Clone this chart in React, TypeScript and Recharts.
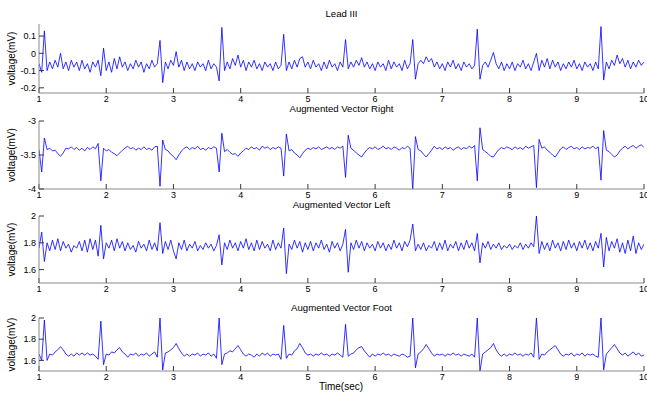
import React from 'react';
import { LineChart, Line, XAxis, YAxis } from 'recharts';

const TIME = [
  1, 1.04, 1.08, 1.12, 1.16, 1.2, 1.24, 1.28, 1.32, 1.36, 1.4, 1.44, 1.48, 1.52, 1.56, 1.6, 1.64, 1.68, 1.72, 1.76, 1.8, 1.84, 1.88, 1.92, 1.96,
  2, 2.04, 2.08, 2.12, 2.16, 2.2, 2.24, 2.28, 2.32, 2.36, 2.4, 2.44, 2.48, 2.52, 2.56, 2.6, 2.64, 2.68, 2.72, 2.76, 2.8, 2.84, 2.88, 2.92, 2.96,
  3, 3.04, 3.08, 3.12, 3.16, 3.2, 3.24, 3.28, 3.32, 3.36, 3.4, 3.44, 3.48, 3.52, 3.56, 3.6, 3.64, 3.68, 3.72, 3.76, 3.8, 3.84, 3.88, 3.92, 3.96,
  4, 4.04, 4.08, 4.12, 4.16, 4.2, 4.24, 4.28, 4.32, 4.36, 4.4, 4.44, 4.48, 4.52, 4.56, 4.6, 4.64, 4.68, 4.72, 4.76, 4.8, 4.84, 4.88, 4.92, 4.96,
  5, 5.04, 5.08, 5.12, 5.16, 5.2, 5.24, 5.28, 5.32, 5.36, 5.4, 5.44, 5.48, 5.52, 5.56, 5.6, 5.64, 5.68, 5.72, 5.76, 5.8, 5.84, 5.88, 5.92, 5.96,
  6, 6.04, 6.08, 6.12, 6.16, 6.2, 6.24, 6.28, 6.32, 6.36, 6.4, 6.44, 6.48, 6.52, 6.56, 6.6, 6.64, 6.68, 6.72, 6.76, 6.8, 6.84, 6.88, 6.92, 6.96,
  7, 7.04, 7.08, 7.12, 7.16, 7.2, 7.24, 7.28, 7.32, 7.36, 7.4, 7.44, 7.48, 7.52, 7.56, 7.6, 7.64, 7.68, 7.72, 7.76, 7.8, 7.84, 7.88, 7.92, 7.96,
  8, 8.04, 8.08, 8.12, 8.16, 8.2, 8.24, 8.28, 8.32, 8.36, 8.4, 8.44, 8.48, 8.52, 8.56, 8.6, 8.64, 8.68, 8.72, 8.76, 8.8, 8.84, 8.88, 8.92, 8.96,
  9, 9.04, 9.08, 9.12, 9.16, 9.2, 9.24, 9.28, 9.32, 9.36, 9.4, 9.44, 9.48, 9.52, 9.56, 9.6, 9.64, 9.68, 9.72, 9.76, 9.8, 9.84, 9.88, 9.92, 9.96,
  10,
];

const LEAD_III = [
  -0.06, -0.11, 0.13, -0.10, -0.05, -0.09, -0.04, -0.08, 0.00, -0.09, -0.05, -0.10, -0.04, -0.08, -0.05, -0.10, -0.04, -0.09, -0.06, -0.11, -0.05, -0.08, -0.04, -0.13, 0.03,
  -0.10, -0.05, -0.11, -0.03, -0.09, -0.02, -0.08, -0.05, -0.10, -0.06, -0.09, -0.04, -0.08, -0.05, -0.11, -0.06, -0.09, -0.04, -0.08, -0.06, 0.075, -0.17, -0.05, -0.09, -0.04,
  -0.07, 0.01, -0.08, -0.04, -0.10, -0.05, -0.09, -0.06, -0.10, -0.05, -0.08, -0.06, -0.10, -0.04, -0.09, -0.06, -0.08, -0.16, 0.15, -0.10, -0.05, -0.09, -0.03, -0.07, -0.01,
  -0.08, -0.04, -0.10, -0.05, -0.08, -0.04, -0.09, -0.06, -0.10, -0.05, -0.08, -0.06, -0.10, -0.05, -0.09, -0.07, 0.11, -0.10, -0.05, -0.09, -0.04, -0.08, -0.03, -0.02, -0.08,
  -0.05, -0.09, -0.04, -0.08, -0.06, -0.10, -0.05, -0.09, -0.04, -0.08, -0.06, -0.10, -0.05, -0.08, 0.08, -0.09, -0.05, -0.08, -0.04, -0.07, -0.025, -0.08, -0.05, -0.09, -0.06,
  -0.10, -0.05, -0.08, -0.06, -0.10, -0.04, -0.09, -0.05, -0.08, -0.06, -0.10, -0.04, -0.09, -0.06, 0.08, -0.15, -0.06, -0.04, -0.06, -0.02, -0.05, -0.03, -0.08, -0.05, -0.09,
  -0.06, -0.10, -0.05, -0.08, -0.04, -0.09, -0.06, -0.10, -0.05, -0.08, -0.06, -0.09, -0.07, 0.14, -0.15, -0.07, -0.05, -0.08, -0.04, 0.005, -0.06, -0.09, -0.05, -0.10, -0.06,
  -0.09, -0.05, -0.10, -0.06, -0.08, -0.04, -0.09, -0.06, -0.10, -0.05, 0.00, -0.10, -0.04, -0.08, -0.03, -0.09, -0.04, -0.08, -0.05, -0.10, -0.06, -0.09, -0.05, -0.08, -0.04,
  -0.09, -0.06, -0.10, -0.05, -0.08, -0.06, -0.10, -0.05, -0.09, 0.155, -0.155, -0.05, -0.09, -0.04, -0.07, -0.01, -0.06, -0.03, -0.08, -0.04, -0.09, -0.05, -0.08, -0.04, -0.07,
  -0.05,
];

const AVR = [
  -3.42, -3.75, -3.25, -3.42, -3.40, -3.44, -3.43, -3.48, -3.52, -3.47, -3.40, -3.41, -3.38, -3.42, -3.39, -3.43, -3.40, -3.44, -3.39, -3.42, -3.38, -3.41, -3.33, -3.88, -3.40,
  -3.44, -3.42, -3.46, -3.48, -3.51, -3.47, -3.43, -3.40, -3.37, -3.41, -3.39, -3.43, -3.40, -3.42, -3.38, -3.42, -3.40, -3.43, -3.38, -3.37, -3.96, -3.28, -3.42, -3.44, -3.49,
  -3.52, -3.57, -3.50, -3.44, -3.40, -3.38, -3.42, -3.39, -3.41, -3.37, -3.42, -3.40, -3.43, -3.39, -3.41, -3.38, -3.40, -3.75, -3.18, -3.45, -3.42, -3.46, -3.49, -3.48, -3.52,
  -3.47, -3.44, -3.40, -3.42, -3.38, -3.41, -3.39, -3.43, -3.37, -3.40, -3.38, -3.42, -3.39, -3.41, -3.38, -3.40, -3.81, -3.19, -3.44, -3.42, -3.47, -3.50, -3.54, -3.48, -3.43,
  -3.40, -3.42, -3.39, -3.41, -3.38, -3.42, -3.40, -3.38, -3.41, -3.39, -3.42, -3.38, -3.40, -3.37, -3.83, -3.21, -3.40, -3.43, -3.47, -3.50, -3.53, -3.47, -3.42, -3.39, -3.41,
  -3.38, -3.42, -3.40, -3.37, -3.41, -3.39, -3.42, -3.38, -3.40, -3.43, -3.39, -3.41, -3.37, -3.40, -4.00, -3.23, -3.42, -3.44, -3.49, -3.53, -3.48, -3.43, -3.37, -3.41, -3.39,
  -3.42, -3.38, -3.41, -3.39, -3.43, -3.40, -3.38, -3.42, -3.39, -3.41, -3.37, -3.40, -3.36, -3.88, -3.10, -3.42, -3.45, -3.48, -3.52, -3.53, -3.47, -3.42, -3.39, -3.41, -3.38,
  -3.40, -3.42, -3.38, -3.41, -3.39, -3.42, -3.37, -3.40, -3.38, -3.36, -3.98, -3.27, -3.40, -3.38, -3.43, -3.46, -3.50, -3.53, -3.47, -3.41, -3.38, -3.42, -3.39, -3.37, -3.41,
  -3.39, -3.42, -3.38, -3.41, -3.39, -3.40, -3.37, -3.41, -3.38, -3.87, -3.14, -3.43, -3.45, -3.49, -3.53, -3.50, -3.44, -3.40, -3.37, -3.41, -3.38, -3.36, -3.40, -3.37, -3.35,
  -3.39,
];

const AVL = [
  1.76, 1.88, 1.66, 1.80, 1.74, 1.82, 1.75, 1.83, 1.74, 1.81, 1.76, 1.79, 1.73, 1.78, 1.76, 1.81, 1.74, 1.82, 1.73, 1.83, 1.75, 1.82, 1.70, 1.93, 1.68,
  1.80, 1.76, 1.82, 1.74, 1.83, 1.76, 1.81, 1.74, 1.80, 1.75, 1.78, 1.73, 1.81, 1.76, 1.79, 1.74, 1.82, 1.75, 1.80, 1.74, 1.95, 1.72, 1.81, 1.75, 1.82,
  1.74, 1.68, 1.80, 1.75, 1.82, 1.74, 1.79, 1.76, 1.81, 1.74, 1.78, 1.75, 1.80, 1.76, 1.79, 1.74, 1.78, 1.86, 1.635, 1.80, 1.75, 1.82, 1.76, 1.80, 1.74,
  1.81, 1.76, 1.83, 1.75, 1.80, 1.74, 1.82, 1.75, 1.81, 1.76, 1.79, 1.74, 1.82, 1.75, 1.80, 1.76, 1.91, 1.57, 1.79, 1.75, 1.82, 1.76, 1.81, 1.73, 1.80,
  1.75, 1.81, 1.74, 1.80, 1.76, 1.82, 1.75, 1.79, 1.73, 1.81, 1.76, 1.80, 1.74, 1.79, 1.90, 1.58, 1.80, 1.75, 1.82, 1.76, 1.81, 1.74, 1.80, 1.76, 1.79,
  1.74, 1.81, 1.76, 1.80, 1.74, 1.79, 1.75, 1.82, 1.76, 1.80, 1.74, 1.81, 1.77, 1.82, 1.94, 1.74, 1.79, 1.75, 1.80, 1.74, 1.78, 1.76, 1.81, 1.74, 1.80,
  1.75, 1.82, 1.74, 1.79, 1.76, 1.81, 1.74, 1.80, 1.75, 1.82, 1.76, 1.80, 1.74, 1.87, 1.65, 1.80, 1.76, 1.81, 1.75, 1.79, 1.76, 1.80, 1.75, 1.78, 1.76,
  1.79, 1.75, 1.78, 1.76, 1.80, 1.75, 1.79, 1.76, 1.80, 1.77, 2.00, 1.72, 1.81, 1.75, 1.80, 1.74, 1.82, 1.76, 1.80, 1.74, 1.81, 1.75, 1.82, 1.76, 1.80,
  1.74, 1.81, 1.76, 1.82, 1.75, 1.80, 1.74, 1.81, 1.76, 1.87, 1.62, 1.84, 1.74, 1.81, 1.76, 1.83, 1.73, 1.80, 1.72, 1.82, 1.74, 1.85, 1.72, 1.80, 1.75,
  1.79,
];

const AVF = [
  1.66, 1.60, 1.98, 1.60, 1.66, 1.65, 1.68, 1.70, 1.73, 1.70, 1.66, 1.64, 1.66, 1.64, 1.67, 1.65, 1.67, 1.65, 1.67, 1.65, 1.66, 1.64, 1.61, 1.97, 1.56,
  1.66, 1.65, 1.68, 1.67, 1.70, 1.72, 1.68, 1.66, 1.63, 1.66, 1.65, 1.67, 1.64, 1.66, 1.65, 1.67, 1.64, 1.66, 1.68, 1.63, 2.00, 1.51, 1.67, 1.68, 1.70,
  1.72, 1.76, 1.71, 1.67, 1.64, 1.66, 1.64, 1.66, 1.65, 1.67, 1.64, 1.66, 1.65, 1.67, 1.64, 1.66, 1.62, 2.00, 1.56, 1.66, 1.67, 1.69, 1.68, 1.71, 1.74,
  1.70, 1.66, 1.64, 1.66, 1.65, 1.63, 1.66, 1.64, 1.67, 1.65, 1.67, 1.64, 1.66, 1.65, 1.66, 1.61, 1.93, 1.62, 1.66, 1.65, 1.69, 1.71, 1.76, 1.72, 1.67,
  1.65, 1.66, 1.64, 1.66, 1.65, 1.67, 1.65, 1.66, 1.64, 1.66, 1.65, 1.67, 1.65, 1.63, 1.94, 1.64, 1.66, 1.67, 1.70, 1.72, 1.73, 1.69, 1.66, 1.63, 1.66,
  1.64, 1.66, 1.65, 1.67, 1.65, 1.66, 1.64, 1.66, 1.65, 1.64, 1.66, 1.65, 1.63, 1.64, 2.00, 1.53, 1.66, 1.68, 1.71, 1.75, 1.71, 1.67, 1.64, 1.66, 1.65,
  1.66, 1.64, 1.66, 1.65, 1.67, 1.65, 1.66, 1.64, 1.66, 1.65, 1.64, 1.66, 1.63, 2.00, 1.50, 1.66, 1.68, 1.70, 1.72, 1.76, 1.70, 1.66, 1.64, 1.66, 1.64,
  1.66, 1.65, 1.67, 1.65, 1.66, 1.64, 1.66, 1.65, 1.67, 1.63, 2.00, 1.61, 1.66, 1.65, 1.68, 1.70, 1.72, 1.74, 1.70, 1.66, 1.64, 1.66, 1.65, 1.67, 1.64,
  1.66, 1.65, 1.67, 1.64, 1.66, 1.65, 1.66, 1.64, 1.63, 2.00, 1.51, 1.66, 1.69, 1.72, 1.75, 1.71, 1.67, 1.65, 1.67, 1.64, 1.66, 1.68, 1.65, 1.67, 1.64,
  1.65,
];

const X_TICKS = [1, 2, 3, 4, 5, 6, 7, 8, 9, 10];
const TICKS_III = [-0.2, -0.1, 0, 0.1];
const TICKS_AVR = [-4, -3.5, -3];
const TICKS_AVL = [1.6, 1.8, 2];
const TICKS_AVF = [1.6, 1.8, 2];

const TITLES = ['Lead III', 'Augmented Vector Right', 'Augmented Vector Left', 'Augmented Vector Foot'];
const Y_LABEL = 'voltage(mV)';
const X_LABEL = 'Time(sec)';

const FONT = '"Liberation Sans", Arial, Helvetica, sans-serif';
const FRAME = '#8a8a8a';
const TICKC = '#3a3a3a';

type PanelProps = {
  values: number[];
  ticks: number[];
  domain: [number, number];
  plotTop: number;
  plotBottom: number;
};

function Panel({ values, ticks, domain, plotTop, plotBottom }: PanelProps) {
  const data = TIME.map((t, i) => ({ t, v: values[i] }));
  const mt = 8;
  const xh = 20;
  const h = plotBottom - plotTop;
  const tickStyle = { fill: '#000', fontSize: 9, fontFamily: FONT };
  return (
    <div style={{ position: 'absolute', left: 0, top: plotTop - mt }}>
      <LineChart
        width={647}
        height={mt + h + xh}
        data={data}
        margin={{ top: mt, right: 3, bottom: 0, left: 0 }}
      >
        <XAxis
          xAxisId="b"
          dataKey="t"
          type="number"
          domain={[1, 10]}
          ticks={X_TICKS}
          interval={0}
          height={xh}
          tickSize={-5}
          tickMargin={8}
          tick={tickStyle}
          axisLine={{ stroke: FRAME }}
          tickLine={{ stroke: TICKC }}
          allowDataOverflow
        />
        <XAxis
          xAxisId="t"
          orientation="top"
          dataKey="t"
          type="number"
          domain={[1, 10]}
          ticks={X_TICKS}
          interval={0}
          height={0}
          tickSize={-5}
          tick={false}
          axisLine={{ stroke: FRAME }}
          tickLine={{ stroke: TICKC }}
          allowDataOverflow
        />
        <YAxis
          yAxisId="l"
          type="number"
          domain={domain}
          ticks={ticks}
          interval={0}
          width={39}
          tickSize={-5}
          tickMargin={8}
          tick={tickStyle}
          axisLine={{ stroke: FRAME }}
          tickLine={{ stroke: TICKC }}
          allowDataOverflow
        />
        <YAxis
          yAxisId="r"
          orientation="right"
          type="number"
          domain={domain}
          ticks={ticks}
          interval={0}
          width={0}
          tickSize={-5}
          tick={false}
          axisLine={{ stroke: FRAME }}
          tickLine={{ stroke: TICKC }}
          allowDataOverflow
        />
        <Line
          xAxisId="b"
          yAxisId="l"
          dataKey="v"
          type="linear"
          stroke="#0000ff"
          strokeWidth={0.8}
          dot={false}
          isAnimationActive={false}
        />
        <Line
          xAxisId="t"
          yAxisId="r"
          dataKey="v"
          type="linear"
          stroke="none"
          dot={false}
          isAnimationActive={false}
        />
      </LineChart>
    </div>
  );
}

const PANELS = [
  { values: LEAD_III, ticks: TICKS_III, domain: [-0.23, 0.17] as [number, number], plotTop: 24, plotBottom: 93, titleY: 16.7, labelY: 58.5 },
  { values: AVR, ticks: TICKS_AVR, domain: [-4, -3] as [number, number], plotTop: 121, plotBottom: 189, titleY: 111.5, labelY: 155 },
  { values: AVL, ticks: TICKS_AVL, domain: [1.5, 2] as [number, number], plotTop: 216, plotBottom: 283, titleY: 207.5, labelY: 249.5 },
  { values: AVF, ticks: TICKS_AVF, domain: [1.5, 2] as [number, number], plotTop: 318, plotBottom: 371, titleY: 310.5, labelY: 344.5 },
];

export default function App() {
  return (
    <div
      style={{
        position: 'absolute',
        left: 0,
        top: 0,
        width: 647,
        height: 395,
        background: '#fff',
        overflow: 'hidden',
        fontFamily: FONT,
      }}
    >
      {PANELS.map((p, i) => (
        <Panel
          key={i}
          values={p.values}
          ticks={p.ticks}
          domain={p.domain}
          plotTop={p.plotTop}
          plotBottom={p.plotBottom}
        />
      ))}
      <svg
        width={647}
        height={395}
        style={{ position: 'absolute', left: 0, top: 0, pointerEvents: 'none' }}
      >
        {PANELS.map((p, i) => (
          <g key={i}>
            <text x={341.5} y={p.titleY} textAnchor="middle" fontSize={9.6} fontFamily={FONT} fill="#000">
              {TITLES[i]}
            </text>
            <text
              x={14.5}
              y={p.labelY}
              textAnchor="middle"
              fontSize={10}
              fontFamily={FONT}
              fill="#000"
              transform={`rotate(-90 14.5 ${p.labelY})`}
            >
              {Y_LABEL}
            </text>
          </g>
        ))}
        <text x={341} y={390} textAnchor="middle" fontSize={10} fontFamily={FONT} fill="#000">
          {X_LABEL}
        </text>
      </svg>
    </div>
  );
}
